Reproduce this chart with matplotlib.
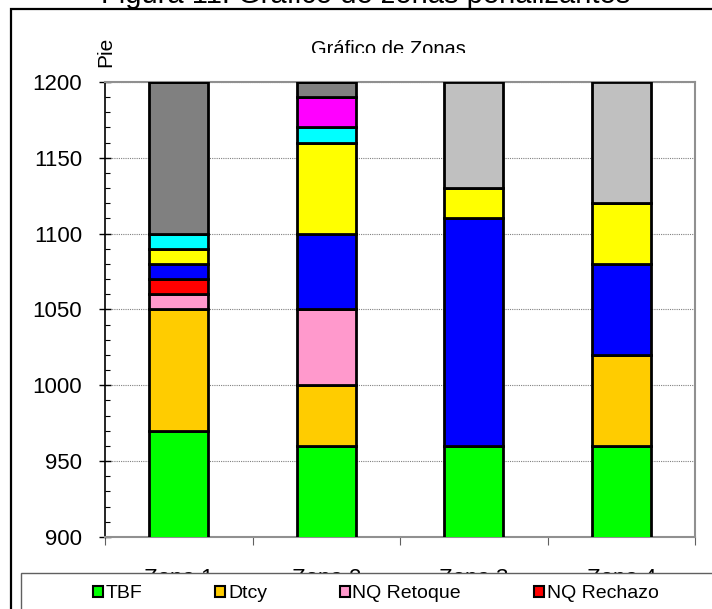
import numpy as np
import matplotlib
matplotlib.use('Agg')
from matplotlib import pyplot as plt
from matplotlib.patches import Rectangle, Patch

plt.rcParams['font.family'] = ['Liberation Sans', 'DejaVu Sans']

# data
zonas = ['Zona 1', 'Zona 2', 'Zona 3', 'Zona 4']
tbf = [970, 960, 960, 960]
dtcy = [80, 40, 0, 60]
nq_retoque = [10, 50, 0, 0]
nq_rechazo = [10, 0, 0, 0]
serie_azul = [10, 50, 150, 60]
serie_amarilla = [10, 60, 20, 40]
serie_cian = [10, 10, 0, 0]
serie_magenta = [0, 20, 0, 0]
serie_gris = [100, 10, 0, 0]
serie_gris_claro = [0, 0, 70, 80]

legend_labels = ['TBF', 'Dtcy', 'NQ Retoque', 'NQ Rechazo']

series = [tbf, dtcy, nq_retoque, nq_rechazo, serie_azul, serie_amarilla,
          serie_cian, serie_magenta, serie_gris, serie_gris_claro]
colors = ['#00FF00', '#FFCC00', '#FF99CC', '#FF0000', '#0000FF', '#FFFF00',
          '#00FFFF', '#FF00FF', '#808080', '#C0C0C0']

W, H = 712, 609


def fx(x):
    return x / W


def fy(y):
    return 1 - y / H


fig = plt.figure(figsize=(W / 100, H / 100), dpi=100)
ax = fig.add_axes([fx(105), fy(537), (695 - 105) / W, (537 - 82) / H])

x = np.arange(len(zonas))
bottom = np.zeros(len(zonas))
for vals, c in zip(series, colors):
    vals = np.array(vals, dtype=float)
    ax.bar(x, vals, width=0.4, bottom=bottom, color=c, edgecolor='black',
           linewidth=2.0, zorder=3)
    bottom += vals

ax.set_xlim(-0.5, len(zonas) - 0.5)
ax.set_ylim(900, 1200)

# y axis
ax.set_yticks(np.arange(900, 1201, 50))
ax.set_yticks(np.arange(900, 1201, 10), minor=True)
ax.tick_params(axis='y', which='major', direction='inout', length=9,
               width=1, labelsize=16, pad=12)
ax.tick_params(axis='y', which='minor', direction='in', length=3.5, width=0.8)
ax.grid(axis='y', which='major', color='#808080', linestyle=(0, (1, 1)),
        linewidth=0.8, zorder=0)

# x axis: ticks on the boundaries, labels at the centres
ax.set_xticks(np.arange(len(zonas) + 1) - 0.5)
ax.set_xticklabels([])
ax.set_xticks(x, minor=True)
ax.set_xticklabels(zonas, minor=True)
ax.tick_params(axis='x', which='major', direction='out', length=6,
               color='#606060')
ax.tick_params(axis='x', which='minor', length=0, labelsize=16, pad=22)

for s in ['top', 'right', 'bottom']:
    ax.spines[s].set_color('#909090')
    ax.spines[s].set_linewidth(1.5)
ax.spines['left'].set_color('black')
ax.spines['left'].set_linewidth(1.2)

ax.set_ylabel('Pie', fontsize=15, va='center')
ax.yaxis.set_label_coords(0.002, 1.066)

# inner chart title, lower part hidden like in the original
fig.text(fx(388), fy(55), 'Gráfico de Zonas', fontsize=14.5,
         ha='center', va='baseline')
fig.add_artist(Rectangle((fx(280), fy(80)), fx(220), 27 / H,
                         transform=fig.transFigure, facecolor='white',
                         edgecolor='none', zorder=4))

# figure caption, cut at the top edge
fig.text(fx(366), fy(3), 'Figura 11: Gráfico de zonas penalizantes',
         fontsize=21, ha='center', va='baseline')

# outer frame
fig.add_artist(Rectangle((fx(11), fy(630)), fx(730), 621 / H,
                         transform=fig.transFigure, facecolor='none',
                         edgecolor='black', linewidth=1.6, zorder=6))

# legend box running off the bottom edge
fig.add_artist(Rectangle((fx(21), fy(630)), fx(720), 57 / H,
                         transform=fig.transFigure, facecolor='white',
                         edgecolor='#606060', linewidth=1, zorder=4))

handles = [Patch(facecolor=c, edgecolor='black', linewidth=1.5)
           for c in colors[:len(legend_labels)]]
fig.legend(handles, legend_labels, ncol=4, frameon=False, fontsize=14,
           loc='center left', bbox_to_anchor=(fx(93), fy(594)),
           borderpad=0, borderaxespad=0, handlelength=0.5, handleheight=0.5,
           handletextpad=0.15, columnspacing=3.75)

fig.savefig('out.png', dpi=100)
